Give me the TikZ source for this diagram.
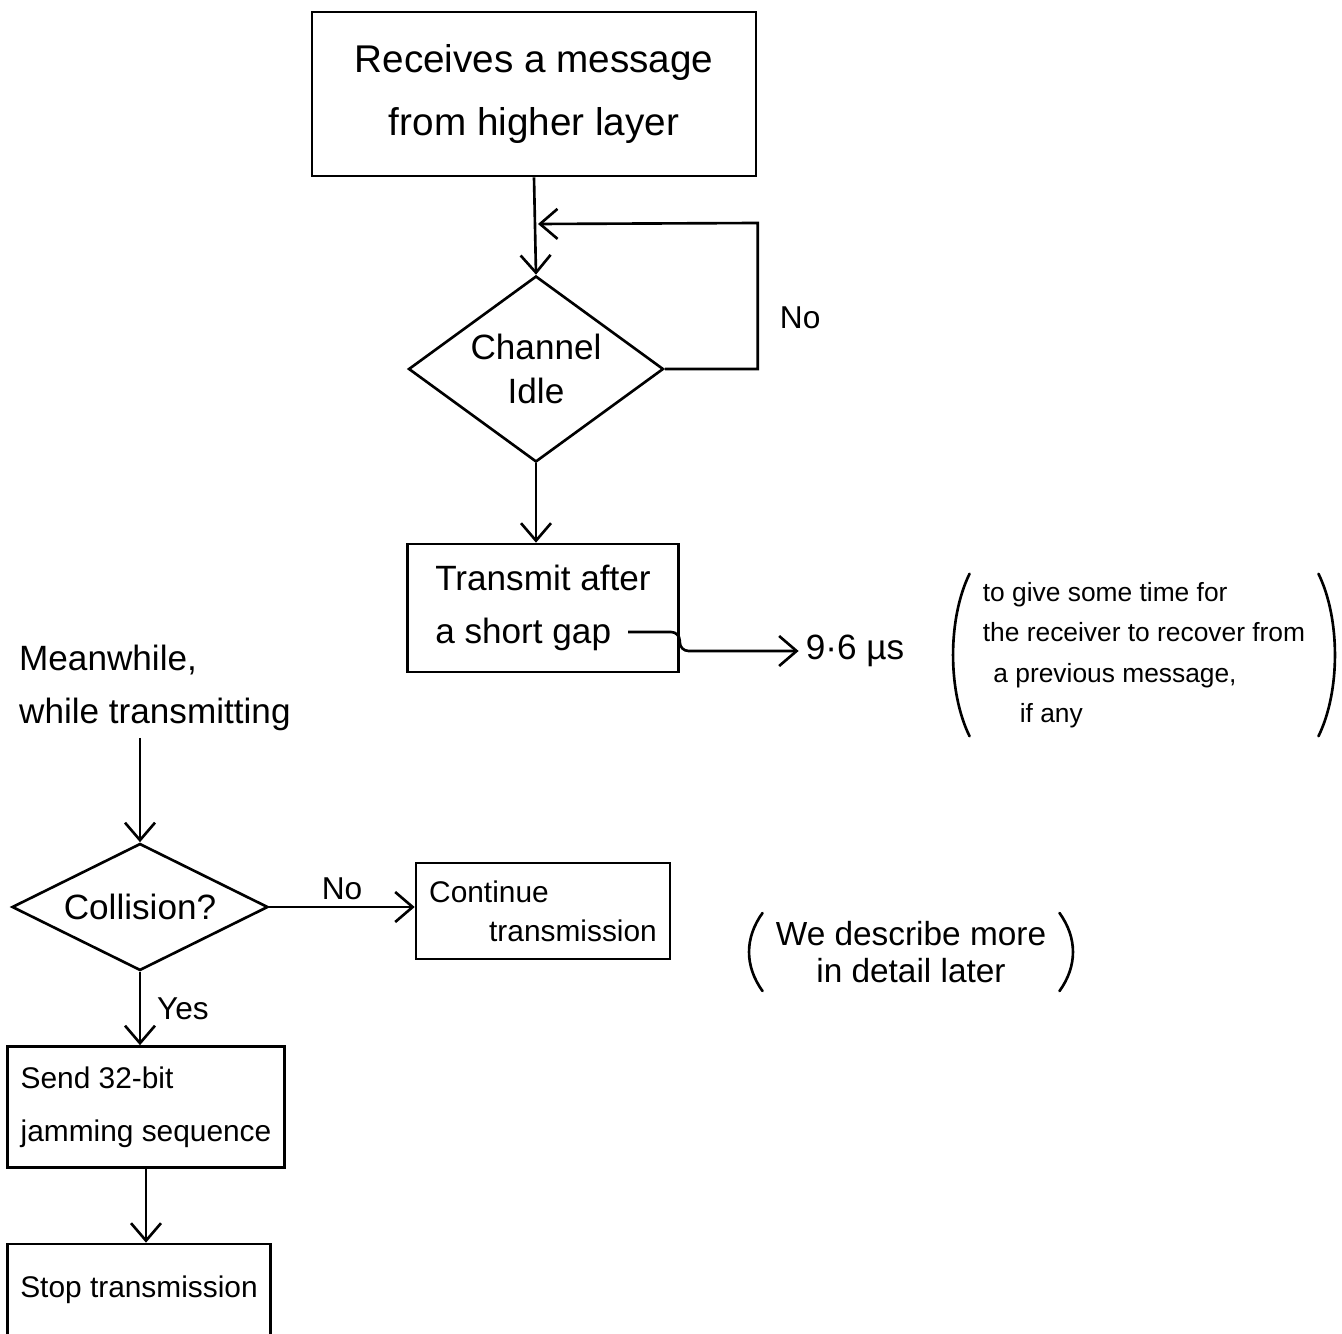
\documentclass[tikz,border=0pt]{standalone}
\usepackage{fontspec}
\setmainfont{Liberation Sans}
\usetikzlibrary{arrows.meta,positioning,shapes.geometric,calc}

\begin{document}
\begin{tikzpicture}[
  x=0.02cm, y=-0.02cm,
  line width=1.5pt,
  box/.style={draw, rectangle, inner sep=3pt, align=center},
  decide/.style={draw, diamond, inner sep=0pt, align=center},
  arr/.style={-{Straight Barb[length=3.5mm, width=6mm]}},
  paren/.style={line cap=round},
  big/.style={font=\fontsize{22}{36}\selectfont},
  mid/.style={font=\fontsize{20}{30}\selectfont},
  small/.style={font=\fontsize{17}{30}\selectfont},
  note/.style={font=\fontsize{15}{23}\selectfont, align=left, inner sep=4pt}
]
\clip (0,0) rectangle (1342,1334);

% ── Sending side: wait for an idle channel ───────────────────────────────
\node[box, big, minimum width=8.88cm, minimum height=3.28cm] (recv) at (534,94)
  {Receives a message\\ from higher layer};
\node[decide, font=\fontsize{20}{25}\selectfont, aspect=1.37,
  minimum width=5.1cm, minimum height=3.72cm] (chan) at (536,369)
  {Channel\\ Idle};
\node[box, mid, align=left, minimum width=5.42cm, minimum height=2.56cm]
  (xfer) at (543,608) {Transmit after\\ a short gap};

\coordinate (back) at (538,224);
\draw[arr] (recv.south) -- (chan.north);
\draw[arr] (chan.east) -- ++(93,0) -- ++(0,-146)
  node[pos=0.35, right=3mm, font=\fontsize{18}{22}\selectfont] {No} -- (back);
\draw[arr] (chan.south) -- (chan.south |- xfer.north);

% ── The gap and why it is there ──────────────────────────────────────────
\node[mid] (mu) at (855,651) {9·6 µs};
\coordinate (gapend) at (628,632);
\draw[arr, rounded corners=5pt] (gapend) -- (xfer.east |- gapend) |- (mu.west);

\node[note] (why) at (1144,655)
  {to give some time for\\ the receiver to recover from\\
   \hspace{0.4em}a previous message,\\ \hspace{1.4em}if any};
\draw[paren] ([xshift=-1mm]why.north west)
  .. controls +(-22,45) and +(-22,-45) .. ([xshift=-1mm]why.south west);
\draw[paren] ([xshift=1mm]why.north east)
  .. controls +(22,45) and +(22,-45) .. ([xshift=1mm]why.south east);

% ── Meanwhile: collision detection ───────────────────────────────────────
\node[mid, align=left, anchor=west] (meanw) at (12,688)
  {Meanwhile,\\ while transmitting};
\node[decide, mid, aspect=2, minimum width=5.12cm, minimum height=2.54cm]
  (coll) at (140,907) {Collision?};
\node[box, font=\fontsize{17}{22}\selectfont, align=left,
  minimum width=5.08cm, minimum height=1.92cm] (cont) at (543,911)
  {Continue\\ \hspace{1.2cm}transmission};
\node[box, small, align=left, minimum width=5.54cm, minimum height=2.42cm]
  (jam) at (146,1107) {Send 32-bit\\ jamming sequence};
\node[box, small, minimum width=5.26cm, minimum height=1.84cm]
  (stop) at (139,1290) {Stop transmission};

\draw[arr] (meanw.south -| coll.north) -- (coll.north);
\draw[arr] (coll.east) -- (coll.east -| cont.west)
  node[midway, above, font=\fontsize{18}{22}\selectfont] {No};
\draw[arr] (coll.south) -- (coll.south |- jam.north)
  node[midway, right=2mm, font=\fontsize{18}{22}\selectfont] {Yes};
\draw[arr] (jam.south) -- (jam.south |- stop.north);

\node[font=\fontsize{19}{21}\selectfont, align=center, inner sep=4pt] (later)
  at (911,952) {We describe more\\ in detail later};
\draw[paren] ([xshift=-1mm]later.north west)
  .. controls +(-18,25) and +(-18,-25) .. ([xshift=-1mm]later.south west);
\draw[paren] ([xshift=1mm]later.north east)
  .. controls +(18,25) and +(18,-25) .. ([xshift=1mm]later.south east);

\end{tikzpicture}
\end{document}
